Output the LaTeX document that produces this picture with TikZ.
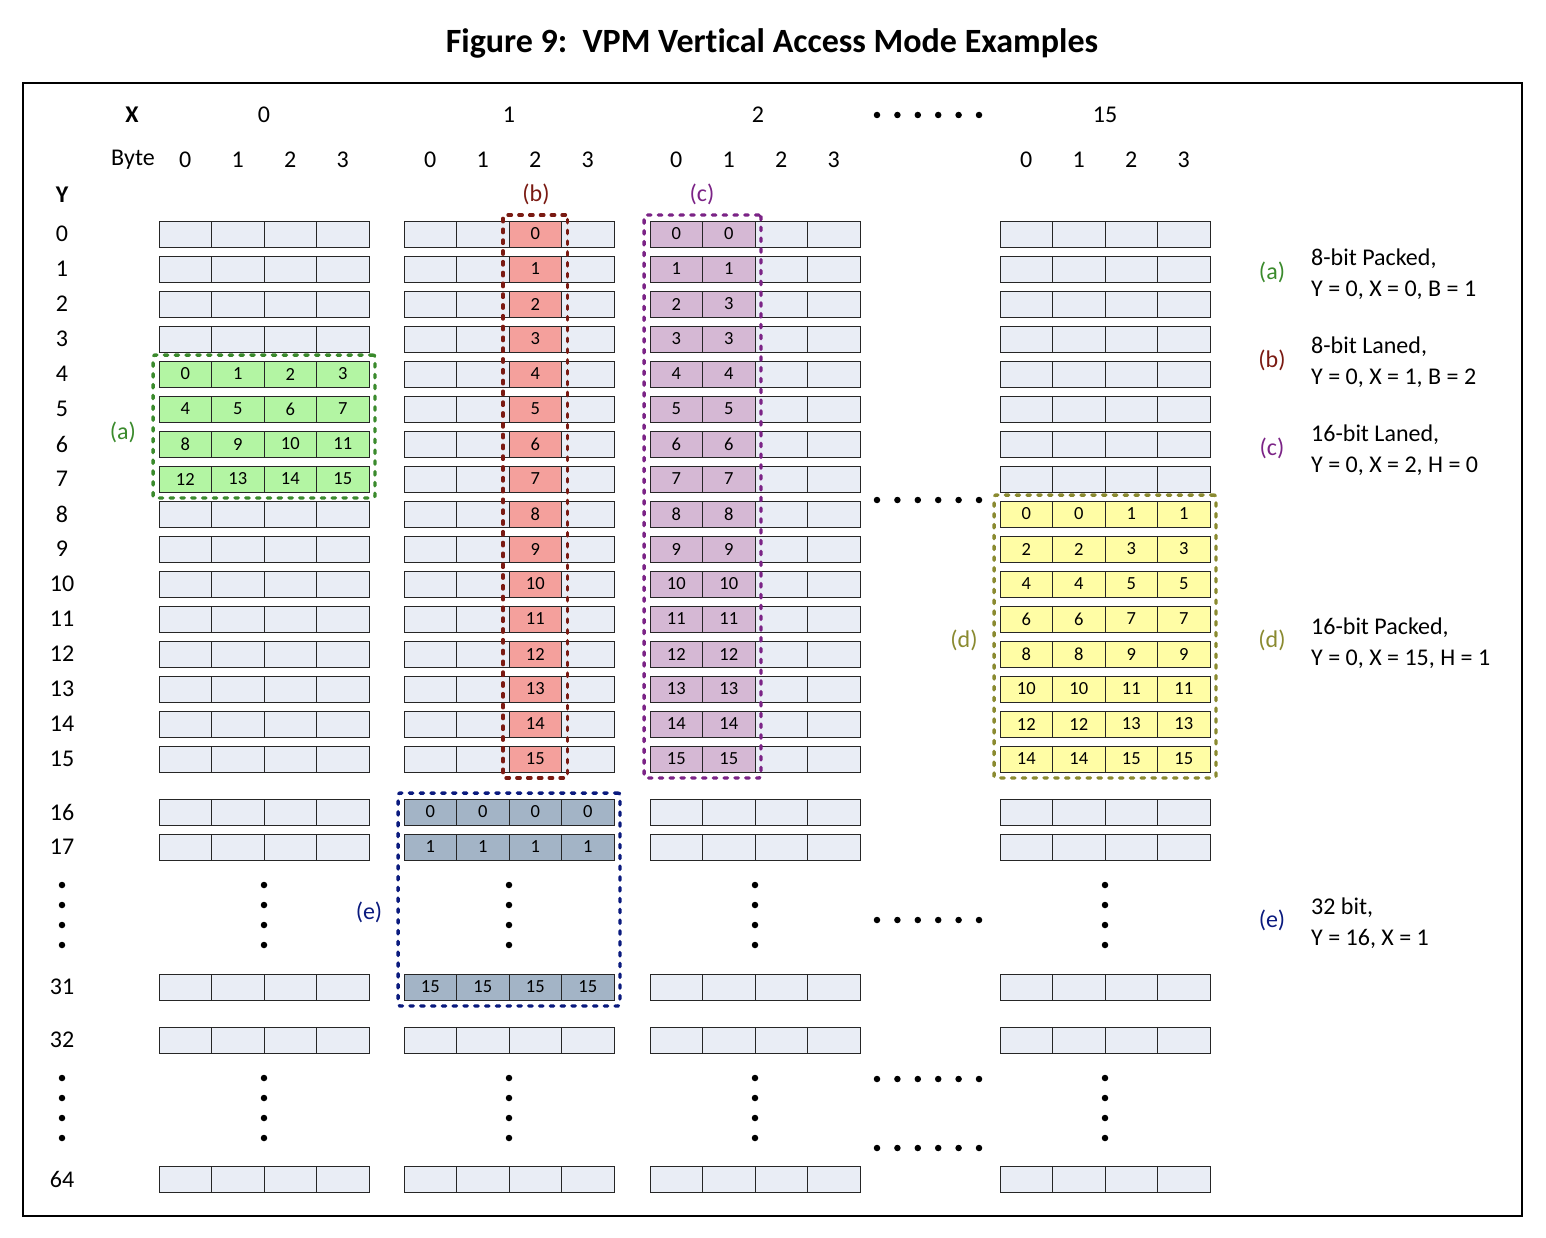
\documentclass[tikz,border=0pt]{standalone}
\usepackage{fontspec}
\setmainfont{Carlito}[Ligatures=NoCommon]
\usetikzlibrary{fit}
\definecolor{cellbg}{HTML}{E9EDF5}
\definecolor{fa}{HTML}{B3F5A3}
\definecolor{fb}{HTML}{F4A09C}
\definecolor{fc}{HTML}{D5B8D4}
\definecolor{fd}{HTML}{FFFDA5}
\definecolor{fe}{HTML}{A3B4C6}
\definecolor{ga}{HTML}{3A8A2C}
\definecolor{gb}{HTML}{7A1A12}
\definecolor{gc}{HTML}{7B2386}
\definecolor{gd}{HTML}{8A8A30}
\definecolor{ge}{HTML}{0A1A7E}
\tikzset{
  cell/.style={draw=black!85, line width=0.9pt, fill=cellbg, minimum width=52.5pt,
    minimum height=26pt, inner sep=0pt, font=\fontsize{18.5}{18.5}\selectfont},
  hl/.style={draw=#1, line width=3.4pt, line cap=round, dash pattern=on 3.4pt off 7.4pt,
    rounded corners=2pt, inner sep=5.5pt},
  lbl/.style={inner sep=0pt, font=\fontsize{24}{24}\selectfont},
  hdr/.style={inner sep=0pt, font=\fontsize{24}{24}\selectfont\bfseries},
  legend/.style={inner sep=0pt, anchor=west, align=left, font=\fontsize{24}{31}\selectfont},
  dotn/.style={circle, fill=black, inner sep=0pt, minimum size=6.5pt},
}
\begin{document}
\begin{tikzpicture}[x=1pt,y=1pt]
\useasboundingbox (0,0) rectangle (1546,-1238);
% title and frame
\node[inner sep=0pt, font=\fontsize{34}{34}\selectfont\bfseries] (title) at (772,-43) {Figure 9:\ \ VPM Vertical Access Mode Examples};
\draw[line width=2pt] (23,-83) rectangle (1522,-1216);

% headers
\node[hdr] (hx) at (132,-115) {X};
\node[hdr] (hy) at (62,-195) {Y};
\node[lbl] (hbyte) at (133,-160) {Byte};
\foreach \g/\gx/\gn in {0/159/0,1/404/1,2/650/2,3/1000/15}{
  \node[lbl] (gx\g) at ({\gx+105+(\g==2?3:0)},-115) {\gn};
  \foreach \j in {0,1,2,3}{
    \node[lbl] (b\g-\j) at ({\gx+26.25+52.5*\j},-160) {\j};
  }
}

% row labels
\foreach \r/\ry in {0/234,1/269,2/304,3/339,4/374,5/409,6/444,7/479,8/514,9/549,10/584,11/619,12/654,13/689,14/724,15/759,16/812,17/847,31/987,32/1040,64/1179}{
  \node[lbl] (ry\r) at (62,-\ry) {\r};
}

% empty cells
\foreach \g/\gx in {0/159,1/404,2/650,3/1000}{
  \foreach \r/\ry in {0/234,1/269,2/304,3/339,4/374,5/409,6/444,7/479,8/514,9/549,10/584,11/619,12/654,13/689,14/724,15/759,16/812,17/847,31/987,32/1040,64/1179}{
    \foreach \j in {0,1,2,3}{
      \node[cell] (c\g-\r-\j) at ({\gx+26.25+52.5*\j},{-\ry}) {};
    }
  }
}

% (a) 8-bit packed
\foreach \r in {4,...,7}{
  \foreach \j in {0,...,3}{
    \pgfmathtruncatemacro\n{4*(\r-4)+\j}
    \node[cell,fill=fa] (a\r-\j) at (c0-\r-\j) {\n};
  }
}
% (b) 8-bit laned
\foreach \r in {0,...,15}{
  \node[cell,fill=fb] (bb\r) at (c1-\r-2) {\r};
}
% (c) 16-bit laned
\foreach \r/\s in {0/0,1/1,2/3,3/3,4/4,5/5,6/6,7/7,8/8,9/9,10/10,11/11,12/12,13/13,14/14,15/15}{
  \node[cell,fill=fc] (cc\r-0) at (c2-\r-0) {\r};
  \node[cell,fill=fc] (cc\r-1) at (c2-\r-1) {\s};
}
% (d) 16-bit packed
\foreach \r in {8,...,15}{
  \pgfmathtruncatemacro\va{2*(\r-8)}
  \pgfmathtruncatemacro\vb{2*(\r-8)+1}
  \node[cell,fill=fd] (dd\r-0) at (c3-\r-0) {\va};
  \node[cell,fill=fd] (dd\r-1) at (c3-\r-1) {\va};
  \node[cell,fill=fd] (dd\r-2) at (c3-\r-2) {\vb};
  \node[cell,fill=fd] (dd\r-3) at (c3-\r-3) {\vb};
}
% (e) 32 bit
\foreach \r/\v in {16/0,17/1,31/15}{
  \foreach \j in {0,...,3}{
    \node[cell,fill=fe] (ee\r-\j) at (c1-\r-\j) {\v};
  }
}

% dashed boxes
\node[hl=ga, fit=(c0-4-0)(c0-7-3)] (boxa) {};
\node[hl=gb, fit=(c1-0-2)(c1-15-2)] (boxb) {};
\node[hl=gc, fit=(c2-0-0)(c2-15-1)] (boxc) {};
\node[hl=gd, fit=(c3-8-0)(c3-15-3)] (boxd) {};
\node[hl=ge, fit=(c1-16-0)(c1-31-3)] (boxe) {};

% box labels
\node[lbl, text=ga] (la) at (123,-432) {(a)};
\node[lbl, text=gb] (lb) at (536,-194) {(b)};
\node[lbl, text=gc] (lc) at (702,-194) {(c)};
\node[lbl, text=gd] (ld) at (964,-640) {(d)};
\node[lbl, text=ge] (le) at (369,-912) {(e)};

% legend
\node[lbl, text=ga] (ra) at (1272,-272) {(a)};
\node[legend] (ta) at (1311,-274) {8-bit Packed,\\Y = 0, X = 0, B = 1};
\node[lbl, text=gb] (rb) at (1272,-360) {(b)};
\node[legend] (tb) at (1311,-362) {8-bit Laned,\\Y = 0, X = 1, B = 2};
\node[lbl, text=gc] (rc) at (1272,-448) {(c)};
\node[legend] (tc) at (1311,-450) {16-bit Laned,\\Y = 0, X = 2, H = 0};
\node[lbl, text=gd] (rd) at (1272,-640) {(d)};
\node[legend] (td) at (1311,-643) {16-bit Packed,\\Y = 0, X = 15, H = 1};
\node[lbl, text=ge] (re) at (1272,-920) {(e)};
\node[legend] (te) at (1311,-923) {32 bit,\\Y = 16, X = 1};

% horizontal dots
\foreach \yy [count=\i] in {115,500,920,1079,1148}{
  \foreach \k in {0,...,5}{
    \node[dotn] (hd\i-\k) at ({877+20.4*\k},-\yy) {};
  }
}
% vertical dots
\foreach \xx [count=\i] in {62,264,509,755,1105}{
  \foreach \yy [count=\m] in {885,905,925,945,1078,1098,1118,1138}{
    \node[dotn] (vd\i-\m) at (\xx,-\yy) {};
  }
}
\end{tikzpicture}
\end{document}
